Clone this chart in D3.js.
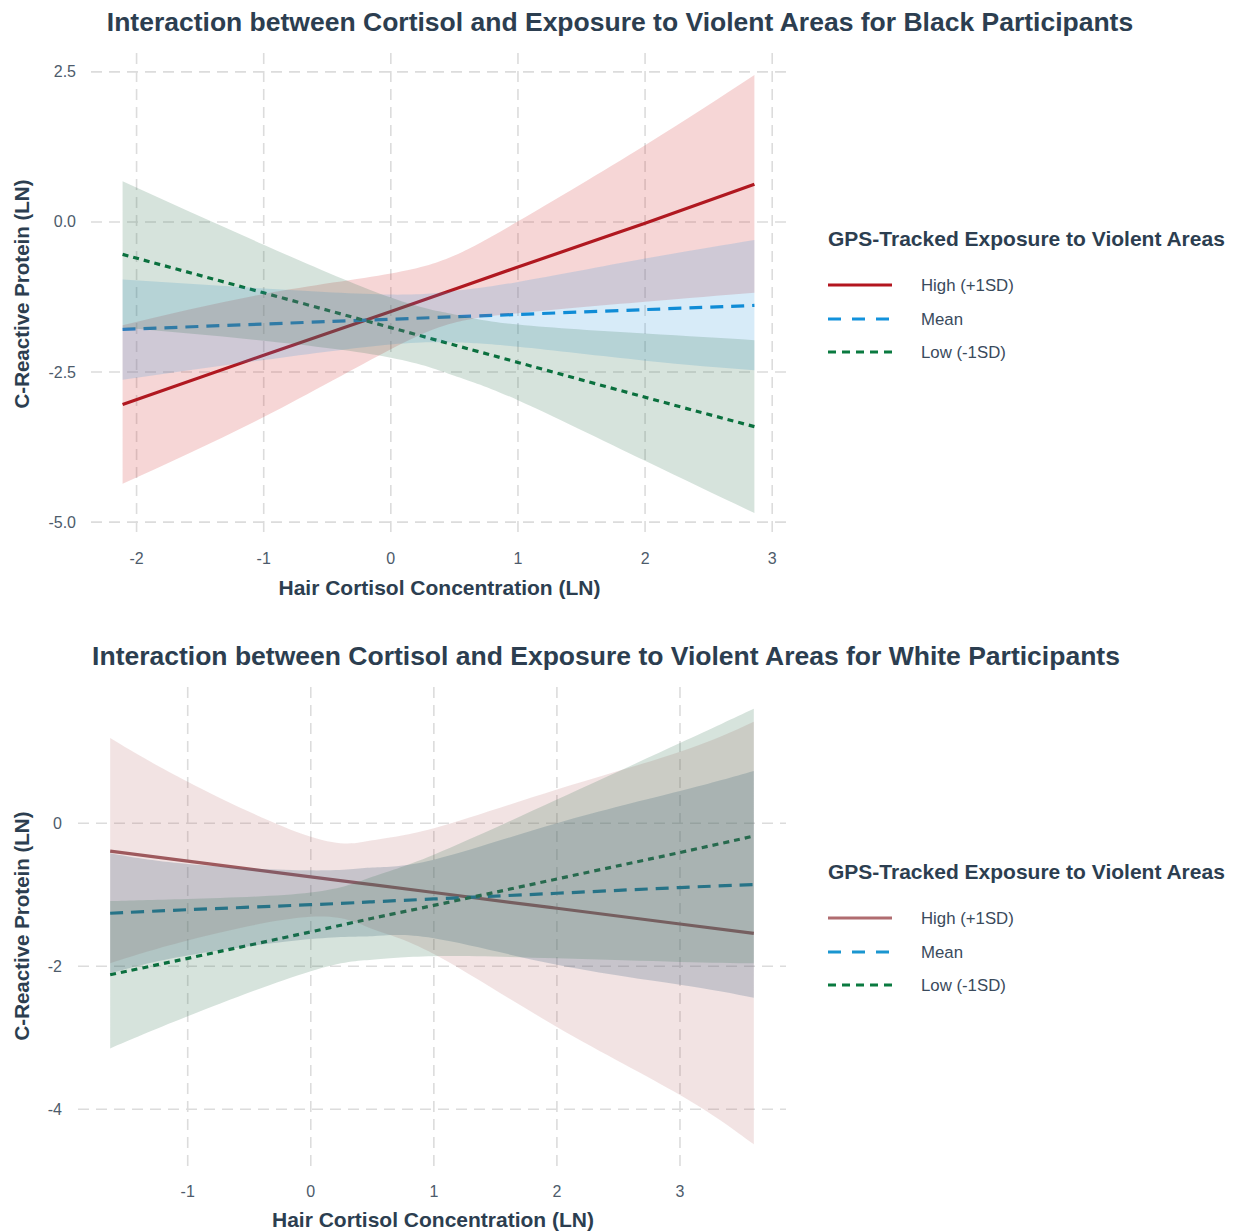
<!DOCTYPE html>
<html><head><meta charset="utf-8">
<script src="https://cdn.jsdelivr.net/npm/d3@7"></script>
<style>
body{margin:0;background:#fff}
text{font-family:"Liberation Sans",Arial,Helvetica,sans-serif}
</style>
</head><body>
<svg id="chart" width="1237" height="1232"></svg>
<script>
// ---------- data ----------
const groups = ["High (+1SD)", "Mean", "Low (-1SD)"];
const legendTitle = "GPS-Tracked Exposure to Violent Areas";
const xAxisTitle = "Hair Cortisol Concentration (LN)";
const yAxisTitle = "C-Reactive Protein (LN)";

// Black participants
const blackTitle = "Interaction between Cortisol and Exposure to Violent Areas for Black Participants";
const blackX = [-2.11, -1, 0, 0.5, 1, 2, 2.86];
const blackHighFit = [-3.04, -2.22, -1.49, -1.12, -0.75, -0.02, 0.63];
const blackHighLo  = [-4.36, -3.25, -2.12, -1.68, -1.52, -1.33, -1.18];
const blackHighHi  = [-1.72, -1.20, -0.86, -0.56, 0.01, 1.28, 2.45];
const blackMeanFit = [-1.79, -1.70, -1.62, -1.58, -1.54, -1.46, -1.39];
const blackMeanLo  = [-2.63, -2.30, -2.04, -2.01, -2.08, -2.31, -2.47];
const blackMeanHi  = [-0.96, -1.11, -1.21, -1.15, -1.00, -0.61, -0.30];
const blackLowFit  = [-0.54, -1.18, -1.76, -2.05, -2.34, -2.92, -3.41];
const blackLowLo   = [-1.76, -1.98, -2.26, -2.56, -2.97, -3.98, -4.85];
const blackLowHi   = [0.68, -0.38, -1.26, -1.54, -1.71, -1.86, -1.97];
const blackXTicks = [-2, -1, 0, 1, 2, 3];
const blackYTicks = [-5, -2.5, 0, 2.5];
const blackYTickLabels = ["-5.0", "-2.5", "0.0", "2.5"];

// White participants
const whiteTitle = "Interaction between Cortisol and Exposure to Violent Areas for White Participants";
const whiteX = [-1.63, -1, 0, 0.5, 1, 2, 3, 3.6];
const whiteHighFit = [-0.39, -0.53, -0.75, -0.86, -0.97, -1.19, -1.41, -1.54];
const whiteHighLo  = [-1.96, -1.64, -1.31, -1.48, -1.83, -2.85, -3.80, -4.49];
const whiteHighHi  = [1.19, 0.58, -0.19, -0.24, -0.07, 0.47, 1.00, 1.42];
const whiteMeanFit = [-1.26, -1.21, -1.14, -1.10, -1.06, -0.98, -0.90, -0.86];
const whiteMeanLo  = [-2.10, -1.85, -1.62, -1.58, -1.61, -1.98, -2.26, -2.44];
const whiteMeanHi  = [-0.42, -0.57, -0.66, -0.62, -0.51, 0.00, 0.45, 0.73];
const whiteLowFit  = [-2.12, -1.89, -1.52, -1.33, -1.15, -0.78, -0.41, -0.18];
const whiteLowLo   = [-3.15, -2.70, -2.07, -1.91, -1.86, -1.89, -1.94, -1.96];
const whiteLowHi   = [-1.09, -1.06, -0.97, -0.75, -0.44, 0.33, 1.12, 1.60];
const whiteXTicks = [-1, 0, 1, 2, 3];
const whiteYTicks = [-4, -2, 0];
const whiteYTickLabels = ["-4", "-2", "0"];

// ---------- styling ----------
const txt = "#2c3e50";
const tickCol = "#4d5b6b";
const dashes = [null, "13,8", "6,5"];

const panels = [
  {
    title: blackTitle, titleY: 31, titleX: 620,
    x: blackX, fit: [blackHighFit, blackMeanFit, blackLowFit],
    lo: [blackHighLo, blackMeanLo, blackLowLo], hi: [blackHighHi, blackMeanHi, blackLowHi],
    xTicks: blackXTicks, yTicks: blackYTicks, yLabels: blackYTickLabels,
    left: 91, right: 786, top: 53, bottom: 535,
    lineCols: ["#a8121c", "#0a8ad6", "#00703a"],
    legLineCols: ["#b3161f", "#1292dc", "#0a7a40"],
    fillCols: ["#d23232", "#2896dc", "#32734f"], fillOp: [0.2, 0.19, 0.2],
    yLabX: 76, xLabY: 564, xTitleY: 595, yTitleCY: 294,
    legTop: 246, legItems: [291, 325, 358]
  },
  {
    title: whiteTitle, titleY: 665, titleX: 606,
    x: whiteX, fit: [whiteHighFit, whiteMeanFit, whiteLowFit],
    lo: [whiteHighLo, whiteMeanLo, whiteLowLo], hi: [whiteHighHi, whiteMeanHi, whiteLowHi],
    xTicks: whiteXTicks, yTicks: whiteYTicks, yLabels: whiteYTickLabels,
    left: 78, right: 786, top: 687, bottom: 1166,
    lineCols: ["#9a5a5e", "#0080aa", "#006e3a"],
    legLineCols: ["#b06c70", "#1a96d0", "#0a7a40"],
    fillCols: ["#b45a5a", "#3f6383", "#32734f"], fillOp: [0.17, 0.24, 0.2],
    yLabX: 62, xLabY: 1197, xTitleY: 1227, yTitleCY: 926,
    legTop: 879, legItems: [924, 958, 991]
  }
];

const svg = d3.select("#chart");

panels.forEach(p => {
  const allY = p.lo.flat().concat(p.hi.flat());
  const [ymin, ymax] = d3.extent(allY);
  const [xmin, xmax] = d3.extent(p.x);
  const xe = (xmax - xmin) * 0.05, ye = (ymax - ymin) * 0.05;
  const x = d3.scaleLinear().domain([xmin - xe, xmax + xe]).range([p.left, p.right]);
  const y = d3.scaleLinear().domain([ymin - ye, ymax + ye]).range([p.bottom, p.top]);

  const g = svg.append("g");

  // grid
  g.selectAll(".hg").data(p.yTicks).join("line")
    .attr("x1", p.left).attr("x2", p.right)
    .attr("y1", d => y(d)).attr("y2", d => y(d))
    .attr("stroke", "#dcdcdc").attr("stroke-width", 1.6).attr("stroke-dasharray", "11,7");
  g.selectAll(".vg").data(p.xTicks).join("line")
    .attr("x1", d => x(d)).attr("x2", d => x(d))
    .attr("y1", p.top).attr("y2", p.bottom)
    .attr("stroke", "#dcdcdc").attr("stroke-width", 1.6).attr("stroke-dasharray", "11,7");

  // tick labels
  g.selectAll(".yl").data(p.yTicks).join("text")
    .attr("x", p.yLabX).attr("y", d => y(d) + 5.5)
    .attr("text-anchor", "end").attr("font-size", 16).attr("fill", tickCol)
    .text((d, i) => p.yLabels[i]);
  g.selectAll(".xl").data(p.xTicks).join("text")
    .attr("x", d => x(d)).attr("y", p.xLabY)
    .attr("text-anchor", "middle").attr("font-size", 16).attr("fill", tickCol)
    .text(d => d);

  // lines (drawn under ribbons)
  p.fit.forEach((f, i) => {
    const line = d3.line().x((d, j) => x(p.x[j])).y(d => y(d)).curve(d3.curveNatural);
    g.append("path").datum(f).attr("d", line)
      .attr("fill", "none").attr("stroke", p.lineCols[i]).attr("stroke-width", 3.2)
      .attr("stroke-dasharray", dashes[i]);
  });

  // ribbons
  p.lo.forEach((lo, i) => {
    const area = d3.area().x((d, j) => x(p.x[j]))
      .y0((d, j) => y(lo[j])).y1((d, j) => y(p.hi[i][j])).curve(d3.curveNatural);
    g.append("path").datum(lo).attr("d", area)
      .attr("fill", p.fillCols[i]).attr("fill-opacity", p.fillOp[i]);
  });

  // titles
  svg.append("text").attr("x", p.titleX).attr("y", p.titleY)
    .attr("text-anchor", "middle").attr("font-size", 26.5).attr("font-weight", "bold")
    .attr("fill", txt).text(p.title);
  svg.append("text").attr("x", (p.left + p.right) / 2 + 1).attr("y", p.xTitleY)
    .attr("text-anchor", "middle").attr("font-size", 21).attr("font-weight", "bold")
    .attr("fill", txt).text(xAxisTitle);
  svg.append("text").attr("transform", `translate(29,${p.yTitleCY}) rotate(-90)`)
    .attr("text-anchor", "middle").attr("font-size", 20.5).attr("font-weight", "bold")
    .attr("fill", txt).text(yAxisTitle);

  // legend
  svg.append("text").attr("x", 828).attr("y", p.legTop)
    .attr("font-size", 21).attr("font-weight", "bold").attr("fill", txt).text(legendTitle);
  groups.forEach((gname, i) => {
    const yy = p.legItems[i];
    svg.append("line").attr("x1", 828).attr("x2", 892).attr("y1", yy - 6).attr("y2", yy - 6)
      .attr("stroke", p.legLineCols[i]).attr("stroke-width", 3.2)
      .attr("stroke-dasharray", i === 0 ? null : (i === 1 ? "13,11" : "8,6"));
    svg.append("text").attr("x", 921).attr("y", yy)
      .attr("font-size", 16.8).attr("fill", "#3a4a5c").text(gname);
  });
});
</script>
</body></html>
